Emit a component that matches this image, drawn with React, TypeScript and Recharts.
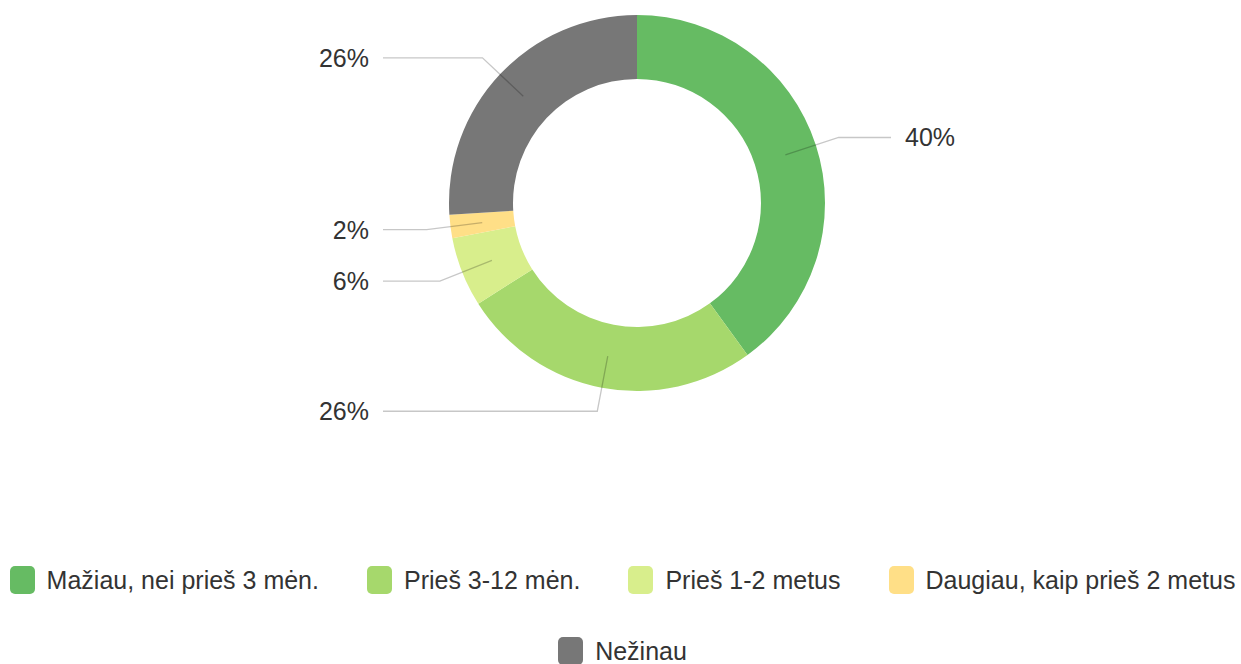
import { Legend, Pie, PieChart, Cell } from 'recharts';

const categories = [
  'Mažiau, nei prieš 3 mėn.',
  'Prieš 3-12 mėn.',
  'Prieš 1-2 metus',
  'Daugiau, kaip prieš 2 metus',
  'Nežinau',
];
const shares = [40, 26, 6, 2, 26];
const colors = ['#66bb63', '#a6d86c', '#d8ee8c', '#ffdf87', '#777777'];

const data = categories.map((name, i) => ({ name, value: shares[i] }));

const FONT = '"Liberation Sans", Arial, sans-serif';
const RAD = Math.PI / 180;

function SliceLabel(props: any) {
  const { cx, cy, midAngle, innerRadius, outerRadius, value } = props;
  const cos = Math.cos(-midAngle * RAD);
  const sin = Math.sin(-midAngle * RAD);
  const rMid = (innerRadius + outerRadius) / 2;
  const x1 = cx + rMid * cos;
  const y1 = cy + rMid * sin;
  const x2 = cx + (outerRadius + 24) * cos;
  const y2 = cy + (outerRadius + 24) * sin;
  const right = cos >= 0;
  const x3 = right ? cx + 254 : cx - 254;
  const tx = right ? cx + 268 : cx - 268;
  return (
    <g>
      <polyline
        points={`${x1},${y1} ${x2},${y2} ${x3},${y2}`}
        fill="none"
        stroke="#000"
        strokeOpacity={0.22}
        strokeWidth={1.3}
      />
      <text
        x={tx}
        y={y2}
        textAnchor={right ? 'start' : 'end'}
        dominantBaseline="central"
        fill="#333"
        fontSize={25}
        fontFamily={FONT}
      >
        {`${value}%`}
      </text>
    </g>
  );
}

function LegendContent() {
  return (
    <div
      style={{
        display: 'flex',
        flexWrap: 'wrap',
        justifyContent: 'center',
        columnGap: 48,
        rowGap: 43,
        fontFamily: FONT,
        fontSize: 25,
        color: '#333',
      }}
    >
      {categories.map((c, i) => (
        <div key={c} style={{ display: 'flex', alignItems: 'center', height: 28 }}>
          <span
            style={{
              display: 'inline-block',
              width: 25,
              height: 28,
              borderRadius: 5,
              background: colors[i],
              marginRight: 12,
            }}
          />
          <span>{c}</span>
        </div>
      ))}
    </div>
  );
}

export default function App() {
  return (
    <div style={{ position: 'absolute', left: 0, top: 0, width: 1241, height: 664, background: '#fff' }}>
      <PieChart width={1241} height={664} margin={{ top: 0, right: 0, bottom: 0, left: 0 }}>
        <Pie
          data={data}
          dataKey="value"
          nameKey="name"
          cx={637}
          cy={203}
          innerRadius={124}
          outerRadius={188}
          startAngle={90}
          endAngle={-270}
          stroke="none"
          label={SliceLabel}
          labelLine={false}
          isAnimationActive={false}
        >
          {data.map((d, i) => (
            <Cell key={d.name} fill={colors[i]} />
          ))}
        </Pie>
        <Legend
          content={<LegendContent />}
          wrapperStyle={{ position: 'absolute', top: 566, left: 2, width: 1241 }}
        />
      </PieChart>
    </div>
  );
}
